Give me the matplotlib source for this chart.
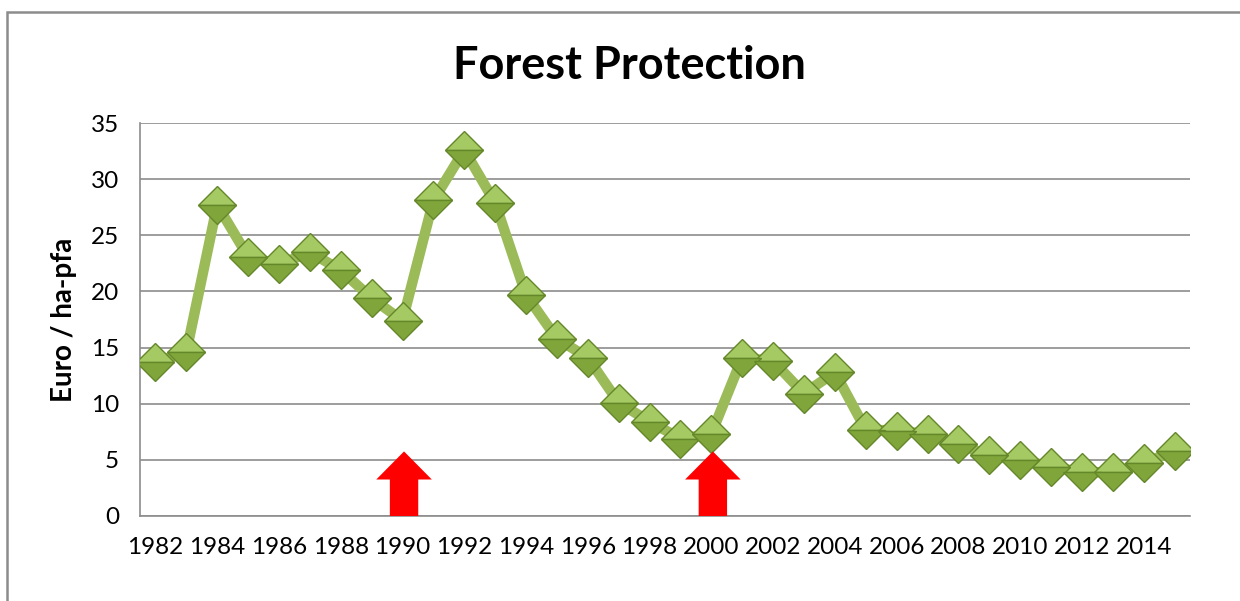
import matplotlib
matplotlib.use("Agg")
import matplotlib.pyplot as plt
from matplotlib.patches import Rectangle, FancyArrow

plt.rcParams['font.family'] = ['Lato', 'DejaVu Sans']

YEARS = list(range(1982, 2016))
VALUES = [13.7, 14.6, 27.7, 23.1, 22.4, 23.5, 21.9, 19.4, 17.4, 28.1,
          32.6, 27.9, 19.7, 15.8, 14.1, 10.1, 8.4, 6.9, 7.3, 14.1,
          13.8, 10.9, 12.8, 7.7, 7.6, 7.3, 6.4, 5.4, 5.0, 4.4,
          3.9, 3.9, 4.7, 5.8]
TICK_YEARS = YEARS[::2]
ARROW_YEARS = [1990, 2000]
ARROW_TOP = 5.75

LINE_COLOR = '#9BBB59'
GRID_COLOR = '#8C8C8C'

fig = plt.figure(figsize=(12.4, 6.01), dpi=100)
ax = fig.add_axes([140 / 1240, 1 - 516 / 601, 1050 / 1240, 393 / 601])

# outer chart frame (cut off on right and bottom in the original)
fig.patches.append(Rectangle((7 / 1240, -0.05), 1.2, 1 - 12 / 601 + 0.05,
                             transform=fig.transFigure, fill=False,
                             edgecolor='#8C8C8C', linewidth=1.8))

x = list(range(len(YEARS)))
ax.plot(x, VALUES, color=LINE_COLOR, linewidth=7.5, zorder=3,
        solid_joinstyle='round')
ax.plot(x, VALUES, linestyle='none', marker='D', markersize=19.5,
        fillstyle='top', markerfacecolor='#A5C963',
        markerfacecoloralt='#7FA53B', markeredgecolor='#64872A',
        markeredgewidth=1.0, zorder=4)

for yr in ARROW_YEARS:
    xi = YEARS.index(yr) + 0.05
    ax.add_patch(FancyArrow(xi, 0, 0, ARROW_TOP, width=0.92,
                            head_width=1.8, head_length=2.5,
                            length_includes_head=True, color='#FF0000',
                            linewidth=0, zorder=5))

ax.set_xlim(-0.5, len(YEARS) - 0.5)
ax.set_ylim(0, 35)
ax.set_yticks(range(0, 36, 5))
ax.set_xticks([YEARS.index(y) for y in TICK_YEARS])
ax.set_xticklabels([str(y) for y in TICK_YEARS])
ax.tick_params(axis='both', length=0, labelsize=17.5, colors='#000000')
ax.tick_params(axis='y', pad=15)
ax.tick_params(axis='x', pad=15)

ax.grid(axis='y', color=GRID_COLOR, linewidth=1.2)
ax.set_axisbelow(True)
for side in ['top', 'right']:
    ax.spines[side].set_visible(False)
for side in ['left', 'bottom']:
    ax.spines[side].set_color(GRID_COLOR)
    ax.spines[side].set_linewidth(1.2)

ax.set_ylabel('Euro / ha-pfa', fontsize=20, fontweight='bold', labelpad=10)
fig.text(0.508, 1 - 66 / 601, 'Forest Protection', fontsize=32.5,
         fontweight='bold', ha='center', va='center')

fig.savefig('out.png', dpi=100)
